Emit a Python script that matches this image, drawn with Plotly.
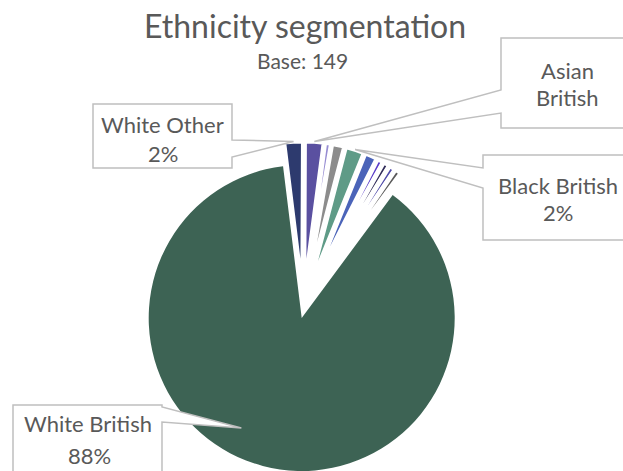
import math
import plotly.graph_objects as go

# ---- data -------------------------------------------------------------
categories = ["White Other", "Asian British", "Mixed White & Asian", "Other Asian",
              "Black British", "Indian", "Mixed White & Black", "Chinese",
              "Black African", "Other", "White British"]
counts = [3, 3, 1, 2, 3, 2, 1, 1, 1, 1, 131]
colors = ["#2D3A6E", "#5A50A0", "#968CD2", "#8C8C8C", "#5F9B87", "#4B64B9",
          "#5A3CC8", "#322D5A", "#504BAA", "#5A5A5A", "#3D6354"]
title_text = "Ethnicity segmentation"
base = sum(counts)
subtitle_text = f"Base: {base}"

# ---- figure geometry (pixels) ----------------------------------------
W, H = 623, 471
FONT = "Lato"
GREY_TXT = "#595959"
GREY_LINE = "#BFBFBF"

cx, cy, r = 301.7, 318.0, 153.0        # main disc
rotation = -7.0                         # first slice starts here (clockwise)
pull_small = 0.075                      # explosion of the minority slices
shift, shift_dir = 12.5, 7.0            # extra offset of the exploded ring

big = len(counts) - 1


def px(x):
    return x / W


def py(y):
    return 1 - y / H


# main slice: one pie, minority slices transparent
domA = dict(x=[px(cx - r), px(cx + r)], y=[max(0, py(cy + r)), py(cy - r)])

# exploded minority slices: a second pie, shifted outward
cxB = cx + shift * math.sin(math.radians(shift_dir))
cyB = cy - shift * math.cos(math.radians(shift_dir))
half = r * (1 + pull_small)
domB = dict(x=[px(cxB - half), px(cxB + half)], y=[max(0, py(cyB + half)), py(cyB - half)])

clear = "rgba(0,0,0,0)"
colorsA = [clear] * big + [colors[big]]
colorsB = colors[:big] + [clear]
pulls = [pull_small] * big + [0]

fig = go.Figure()
fig.add_trace(go.Pie(
    labels=categories, values=counts, sort=False, direction="clockwise",
    rotation=rotation, domain=domA, textinfo="none", hoverinfo="label+value+percent",
    marker=dict(colors=colorsA, line=dict(width=0)),
))
fig.add_trace(go.Pie(
    labels=categories, values=counts, sort=False, direction="clockwise",
    rotation=rotation, domain=domB, textinfo="none", pull=pulls,
    hoverinfo="label+value+percent",
    marker=dict(colors=colorsB,
                line=dict(color=["white"] * big + [clear], width=[4.5] * big + [0])),
))

# ---- slice geometry used by the callouts ------------------------------
def mid_angle(i):
    before = sum(counts[:i])
    return rotation + (before + counts[i] / 2) * 360 / base


def outer_tip(i):
    a = math.radians(mid_angle(i))
    ux, uy = math.sin(a), -math.cos(a)
    d = (pull_small * r + r)
    return cxB + d * ux, cyB + d * uy


def inner_point(i, frac, dang):
    a = math.radians(mid_angle(i) + dang)
    return cx + frac * r * math.sin(a), cy - frac * r * math.cos(a)


def pct(i):
    return f"{round(counts[i] / base * 100)}%"


# callout boxes: (box x0,y0,x1,y1, attach side, wedge y-range, tip, text lines)
callouts = [
    dict(tip=outer_tip(0), box=(93, 104, 232, 168), side="right", wedge=(140, 157),
         lines=[(categories[0], 162.5, 125), (pct(0), 162.5, 154)]),
    dict(tip=outer_tip(1), box=(501, 38, 650, 128), side="left", wedge=(90, 113),
         lines=[("Asian", 567, 71), ("British", 567, 98)]),
    dict(tip=outer_tip(4), box=(483, 155, 650, 240), side="left", wedge=(168, 188),
         lines=[(categories[4], 558, 185), (pct(4), 558, 212)]),
    dict(tip=inner_point(big, 0.82, 14), box=(13, 405, 162, 490), side="right", wedge=(407, 422),
         lines=[(categories[big], 88, 423), (pct(big), 89, 455)]),
]

shapes = []
annotations = []
for c in callouts:
    x0, y0, x1, y1 = c["box"]
    w0, w1 = c["wedge"]
    tx, ty = c["tip"]
    if c["side"] == "right":
        pts = [(x0, y0), (x1, y0), (x1, w0), (tx, ty), (x1, w1), (x1, y1), (x0, y1)]
    else:
        pts = [(x0, y0), (x1, y0), (x1, y1), (x0, y1), (x0, w1), (tx, ty), (x0, w0)]
    path = "M " + " L ".join(f"{px(x):.5f},{py(y):.5f}" for x, y in pts) + " Z"
    shapes.append(dict(type="path", xref="paper", yref="paper", path=path,
                       fillcolor="white", line=dict(color=GREY_LINE, width=1.5),
                       layer="above"))
    for text, lx, ly in c["lines"]:
        annotations.append(dict(text=text, x=px(lx), y=py(ly), xref="paper", yref="paper",
                                showarrow=False, xanchor="center", yanchor="middle",
                                font=dict(family=FONT, size=22, color=GREY_TXT)))

annotations.append(dict(text=title_text, x=px(305), y=py(26), xref="paper", yref="paper",
                        showarrow=False, xanchor="center", yanchor="middle",
                        font=dict(family=FONT, size=32, color=GREY_TXT)))
annotations.append(dict(text=subtitle_text, x=px(302), y=py(61), xref="paper", yref="paper",
                        showarrow=False, xanchor="center", yanchor="middle",
                        font=dict(family=FONT, size=21, color=GREY_TXT)))

fig.update_layout(
    width=W, height=H, autosize=False,
    margin=dict(l=0, r=0, t=0, b=0),
    paper_bgcolor="white", plot_bgcolor="white",
    showlegend=False,
    shapes=shapes, annotations=annotations,
)

fig.write_html("out.html")
